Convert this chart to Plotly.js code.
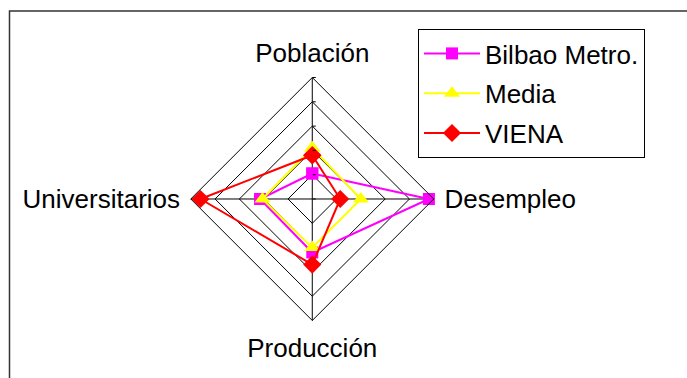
<!DOCTYPE html>
<html>
<head>
<meta charset="utf-8">
<script src="https://cdn.plot.ly/plotly-3.0.1.min.js"></script>
<style>
  html, body { margin: 0; padding: 0; background: #fff; }
  #chart { width: 687px; height: 378px; }
</style>
</head>
<body>
<div id="chart"></div>
<script>
// radar: 4 indicadores
const categories = ['Población', 'Desempleo', 'Producción', 'Universitarios'];
const bilbao = [1.05, 4.8, 2.2, 2.15];
const media = [2.1, 2.0, 2.0, 2.05];
const viena = [1.8, 1.15, 2.7, 4.6];

const font = 'Liberation Sans, Arial, sans-serif';

// close the loop by repeating the first point
function closed(arr) {
  return arr.concat([arr[0]]);
}

function makeTrace(name, values, color, symbol, size) {
  return {
    type: 'scatterpolar',
    name: name,
    r: closed(values),
    theta: closed(categories),
    mode: 'lines+markers',
    line: { color: color, width: 2 },
    marker: { color: color, symbol: symbol, size: size },
    legendgroup: name,
    cliponaxis: false
  };
}

const traces = [
  makeTrace('Bilbao Metro.', bilbao, '#FF00FF', 'square', 12),
  makeTrace('Media', media, '#FFFF00', 'triangle-up', 14),
  makeTrace('VIENA', viena, '#FF0000', 'diamond', 14)
];

const layout = {
  width: 687,
  height: 378,
  margin: { l: 0, r: 0, t: 0, b: 0 },
  paper_bgcolor: '#ffffff',
  font: { family: font, size: 26, color: '#000' },
  showlegend: true,
  legend: {
    x: 418 / 687,
    y: 1 - 29 / 378,
    xanchor: 'left',
    yanchor: 'top',
    bordercolor: '#000',
    borderwidth: 1,
    bgcolor: '#fff',
    font: { family: font, size: 26, color: '#000' },
    itemwidth: 56,
    traceorder: 'grouped',
    tracegroupgap: 3
  },
  polar: {
    domain: { x: [0.2777, 0.6314], y: [0.1521, 0.7950] },
    gridshape: 'linear',
    bgcolor: '#fff',
    radialaxis: {
      range: [0, 5],
      dtick: 1,
      angle: 90,
      showticklabels: false,
      ticks: 'outside',
      ticklen: 3,
      tickcolor: '#000',
      showline: false,
      gridcolor: '#000',
      gridwidth: 1
    },
    angularaxis: {
      rotation: 90,
      direction: 'clockwise',
      categoryorder: 'array',
      categoryarray: categories,
      showline: true,
      linecolor: '#000',
      linewidth: 1,
      gridcolor: '#000',
      gridwidth: 1,
      ticks: 'outside',
      ticklen: 5,
      tickcolor: 'rgba(0,0,0,0)',
      tickfont: { family: font, size: 26, color: '#000' }
    }
  },
  shapes: [{
    type: 'rect',
    xref: 'paper', yref: 'paper',
    x0: 9.5 / 687, x1: 1.02, y0: -0.02, y1: 1 - 11 / 378,
    line: { color: '#333', width: 1.5 },
    layer: 'below'
  }]
};

Plotly.newPlot('chart', traces, layout, { displayModeBar: false, staticPlot: true });
</script>
</body>
</html>
